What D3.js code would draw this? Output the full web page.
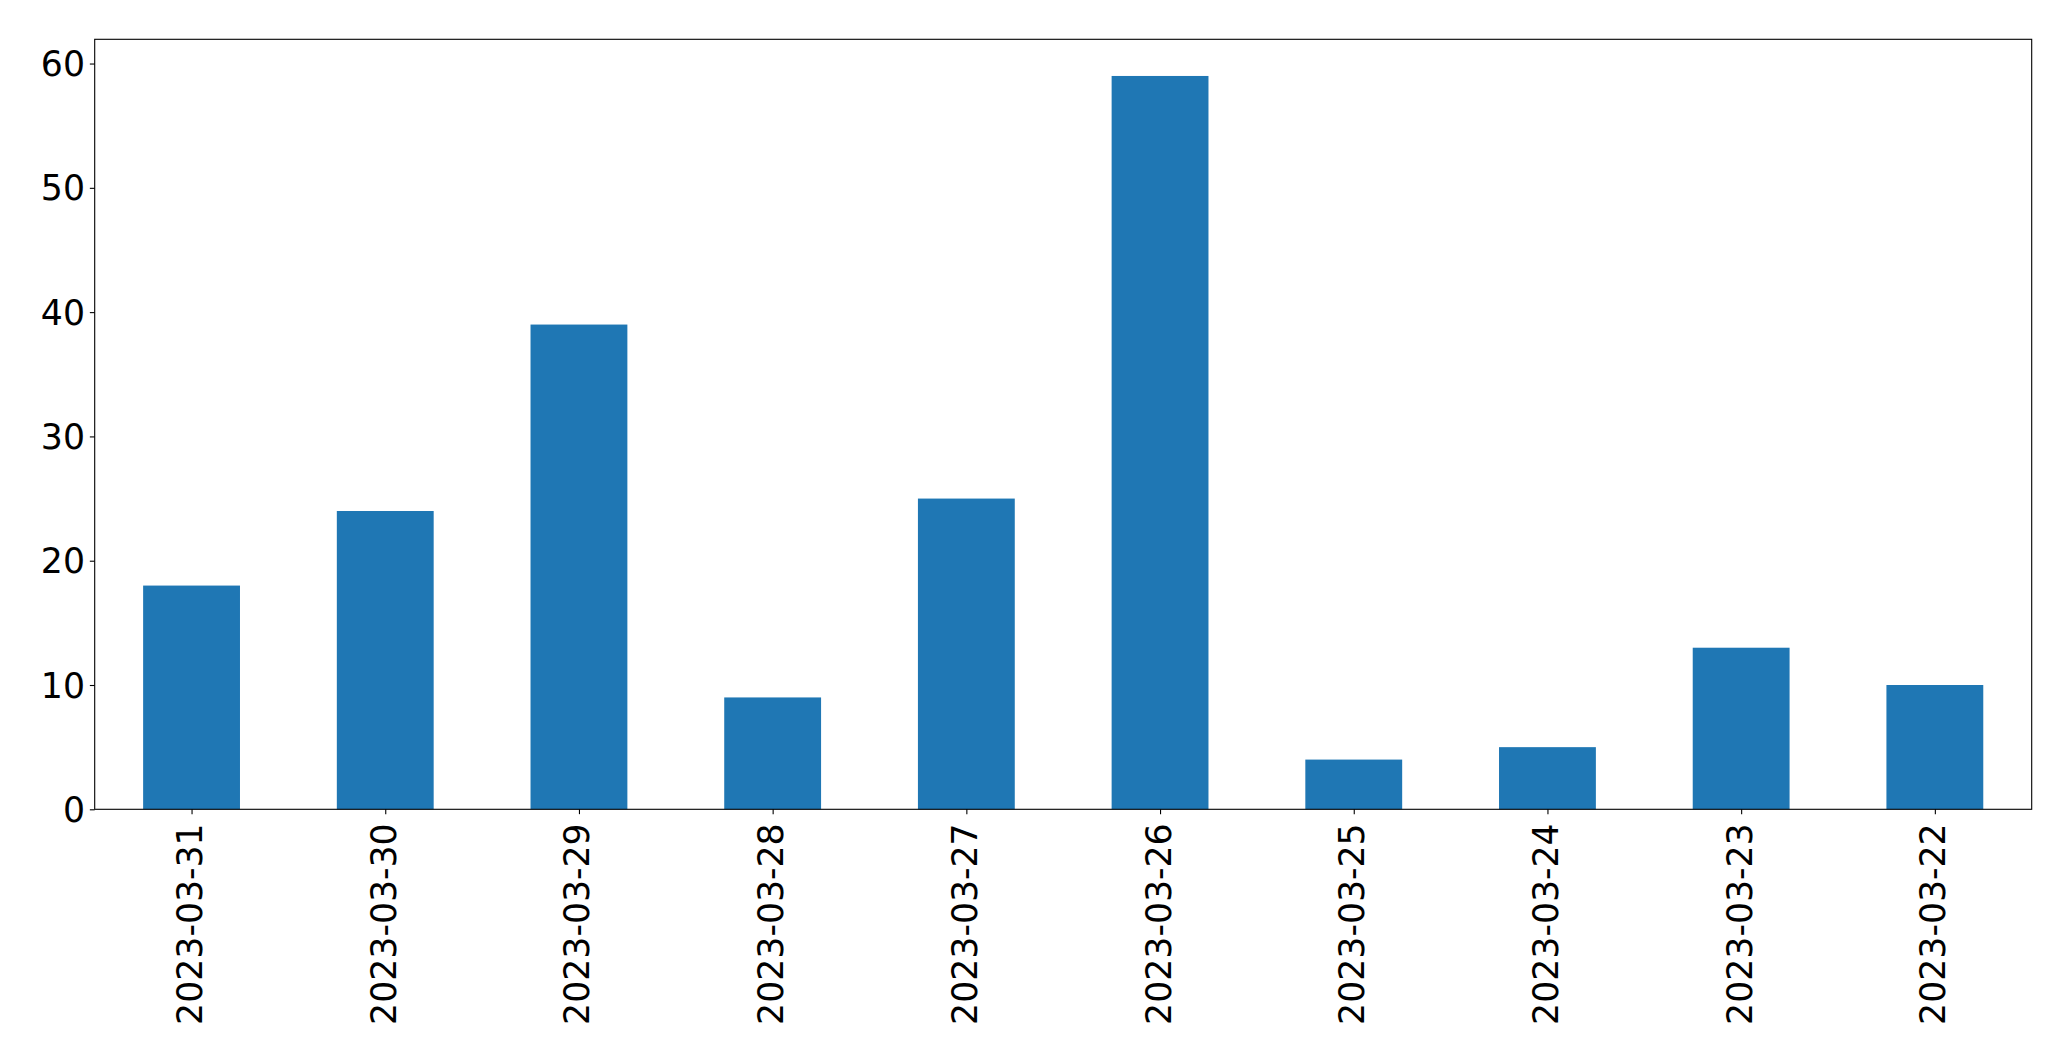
<!DOCTYPE html>
<html><head><meta charset="utf-8">
<script src="https://cdn.jsdelivr.net/npm/d3@7"></script>
<style>html,body{margin:0;padding:0;background:#fff;}svg{display:block;}</style>
</head><body>
<svg id="chart" width="2071" height="1061"></svg>
<script>
const categories = ["2023-03-31","2023-03-30","2023-03-29","2023-03-28","2023-03-27","2023-03-26","2023-03-25","2023-03-24","2023-03-23","2023-03-22"];
const values = [18, 24, 39, 9, 25, 59, 4, 5, 13, 10];
const yTicks = [0, 10, 20, 30, 40, 50, 60];

const W = 2071, H = 1061;
const m = {left: 94.7, top: 39.3, right: 2031.7, bottom: 809.3};
const svg = d3.select("#chart");
const font = "DejaVu Sans, sans-serif";
const fs = 34.7;

const x = d3.scaleLinear().domain([-0.5, categories.length - 0.5]).range([m.left, m.right]);
const y = d3.scaleLinear().domain([0, d3.max(values) * 1.05]).range([m.bottom, m.top]);
const barW = 0.5;

svg.append("g").selectAll("rect").data(values).join("rect")
  .attr("x", (d, i) => x(i - barW / 2))
  .attr("width", (d, i) => x(i + barW / 2) - x(i - barW / 2))
  .attr("y", d => y(d))
  .attr("height", d => y(0) - y(d))
  .attr("fill", "#1f77b4");

// Y axis
const yAxis = d3.axisLeft(y).tickValues(yTicks).tickSize(4.86).tickPadding(4.86).tickFormat(d3.format("d"));
const gy = svg.append("g").attr("transform", `translate(${m.left},0)`).call(yAxis);
gy.select(".domain").remove();
gy.selectAll("line").attr("stroke", "#000").attr("stroke-width", 1.1);
gy.selectAll("text").attr("font-family", font).attr("font-size", fs).attr("fill", "#000").attr("dy", "0.35em");

// X axis
const xAxis = d3.axisBottom(x).tickValues(d3.range(categories.length)).tickSize(4.86).tickPadding(4.86).tickFormat(i => categories[i]);
const gx = svg.append("g").attr("transform", `translate(0,${m.bottom})`).call(xAxis);
gx.select(".domain").remove();
gx.selectAll("line").attr("stroke", "#000").attr("stroke-width", 1.1);
gx.selectAll("text")
  .attr("font-family", font).attr("font-size", fs).attr("fill", "#000")
  .attr("text-anchor", "end")
  .attr("y", 0).attr("dy", 0)
  .attr("transform", "translate(0,14) rotate(-90)")
  .attr("x", 0).attr("dominant-baseline", "middle");

// Frame
svg.append("rect").attr("x", m.left).attr("y", m.top)
  .attr("width", m.right - m.left).attr("height", m.bottom - m.top)
  .attr("fill", "none").attr("stroke", "#000").attr("stroke-width", 1.1);
</script>
</body></html>
